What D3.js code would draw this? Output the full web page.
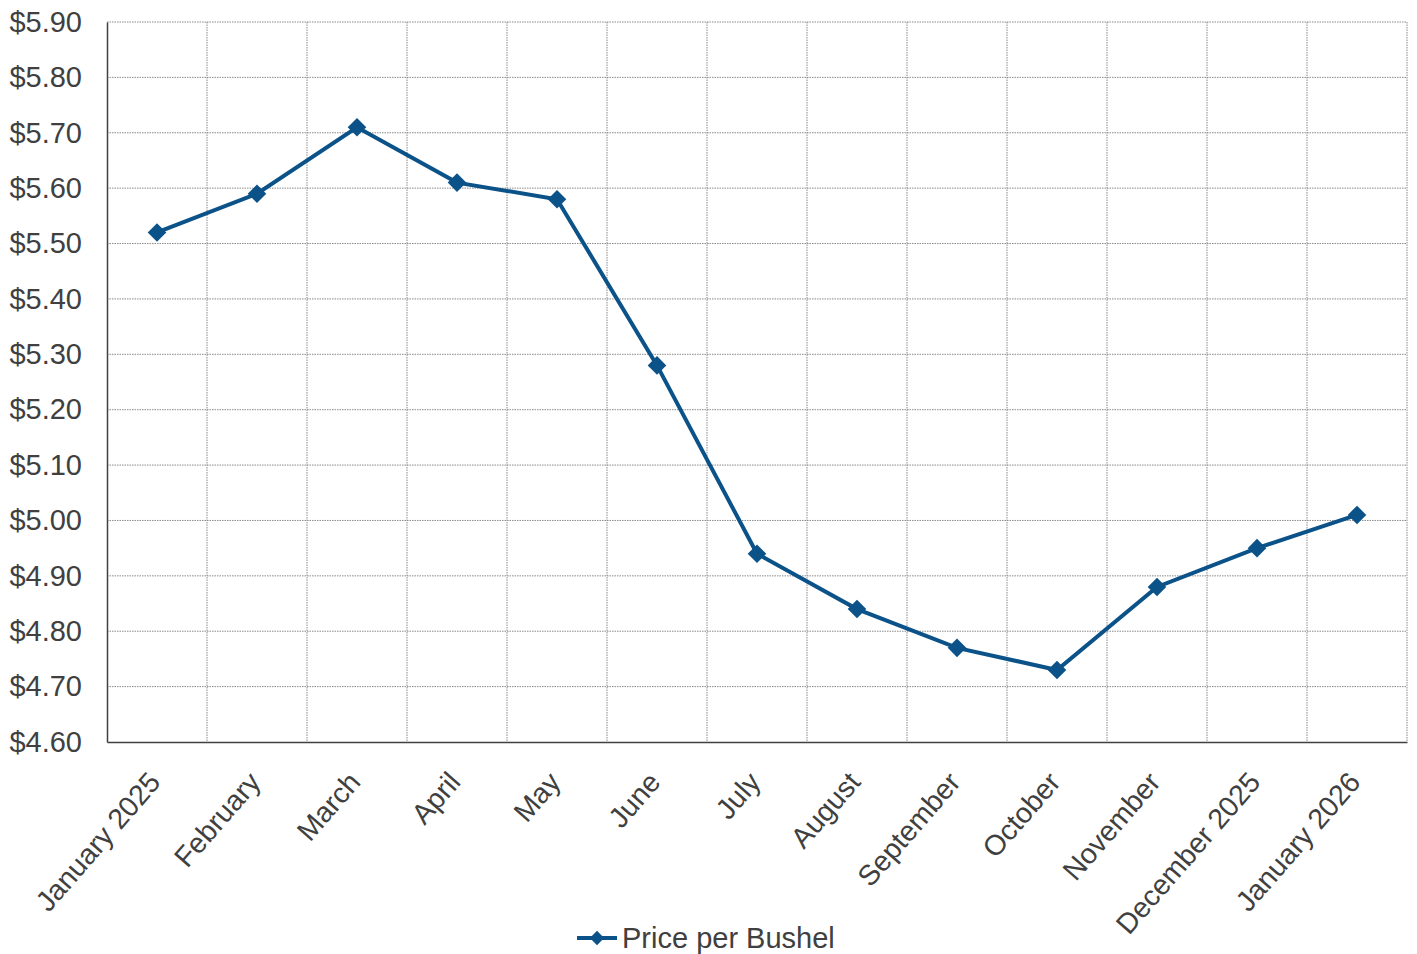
<!DOCTYPE html>
<html>
<head>
<meta charset="utf-8">
<script src="https://cdn.jsdelivr.net/npm/d3@7"></script>
<style>
  body { margin: 0; background: #fff; }
  text { font-family: "Liberation Sans", Arial, sans-serif; fill: #404040; }
</style>
</head>
<body>
<div id="chart"></div>
<script>
var months = ["January 2025", "February", "March", "April", "May", "June", "July",
              "August", "September", "October", "November", "December 2025", "January 2026"]
var prices = [5.52, 5.59, 5.71, 5.61, 5.58, 5.28, 4.94, 4.84, 4.77, 4.73, 4.88, 4.95, 5.01]
var yTicks = [4.60, 4.70, 4.80, 4.90, 5.00, 5.10, 5.20, 5.30, 5.40, 5.50, 5.60, 5.70, 5.80, 5.90]
var seriesName = "Price per Bushel"

var W = 1417, H = 954
var margin = {top: 22, right: 10, bottom: 212, left: 107}
var width = W - margin.left - margin.right,
    height = H - margin.top - margin.bottom

var blue = "#0b5289"

var svg = d3.select("#chart").append("svg")
    .attr("width", W)
    .attr("height", H)

var g = svg.append("g")
    .attr("transform", "translate(" + margin.left + "," + margin.top + ")")

var x = d3.scaleBand().domain(months).range([0, width])
var y = d3.scaleLinear().domain([4.6, 5.9]).range([height, 0])

// horizontal grid
g.append("g").selectAll("line")
    .data(yTicks.slice(1))
  .enter().append("line")
    .attr("x1", 0).attr("x2", width)
    .attr("y1", function(d) { return y(d) }).attr("y2", function(d) { return y(d) })
    .attr("stroke", "#8a8a8a")
    .attr("stroke-dasharray", "1.5,1")

// vertical grid at band edges
g.append("g").selectAll("line")
    .data(months.slice(1).concat(["end"]))
  .enter().append("line")
    .attr("x1", function(d, i) { return x.step() * (i + 1) })
    .attr("x2", function(d, i) { return x.step() * (i + 1) })
    .attr("y1", 0).attr("y2", height)
    .attr("stroke", "#8a8a8a")
    .attr("stroke-dasharray", "1.5,1")

// y axis
var yAxis = d3.axisLeft(y).tickValues(yTicks).tickSize(0).tickPadding(25)
    .tickFormat(function(d) { return "$" + d.toFixed(2) })
var ya = g.append("g").call(yAxis)
ya.select(".domain").attr("stroke", "#404040").attr("stroke-width", 1.5)
ya.selectAll("text").attr("font-size", 29).attr("fill", "#404040")

// x axis
var xAxis = d3.axisBottom(x).tickSize(0).tickPadding(0)
var xa = g.append("g")
    .attr("transform", "translate(0," + height + ")")
    .call(xAxis)
xa.select(".domain").attr("stroke", "#404040").attr("stroke-width", 1.5)
xa.selectAll("text")
    .attr("font-size", 28.5)
    .attr("fill", "#404040")
    .attr("text-anchor", "end")
    .attr("dy", null)
    .attr("y", 0)
    .attr("transform", "translate(5,41) rotate(-49)")

// line
var line = d3.line()
    .x(function(d, i) { return x(months[i]) + x.bandwidth() / 2 })
    .y(function(d) { return y(d) })

g.append("path")
    .datum(prices)
    .attr("fill", "none")
    .attr("stroke", blue)
    .attr("stroke-width", 4)
    .attr("d", line)

var diamond = d3.symbol().type(d3.symbolDiamond2).size(220)
g.selectAll(".pt")
    .data(prices)
  .enter().append("path")
    .attr("class", "pt")
    .attr("d", diamond)
    .attr("fill", blue)
    .attr("transform", function(d, i) {
      return "translate(" + (x(months[i]) + x.bandwidth() / 2) + "," + y(d) + ")"
    })

// legend
var lg = svg.append("g").attr("transform", "translate(577,938)")
lg.append("line").attr("x1", 0).attr("x2", 40).attr("stroke", blue).attr("stroke-width", 4)
lg.append("path").attr("d", d3.symbol().type(d3.symbolDiamond2).size(130))
    .attr("fill", blue).attr("transform", "translate(20,0)")
lg.append("text").attr("x", 45).attr("y", 10).attr("font-size", 29).text(seriesName)
</script>
</body>
</html>
